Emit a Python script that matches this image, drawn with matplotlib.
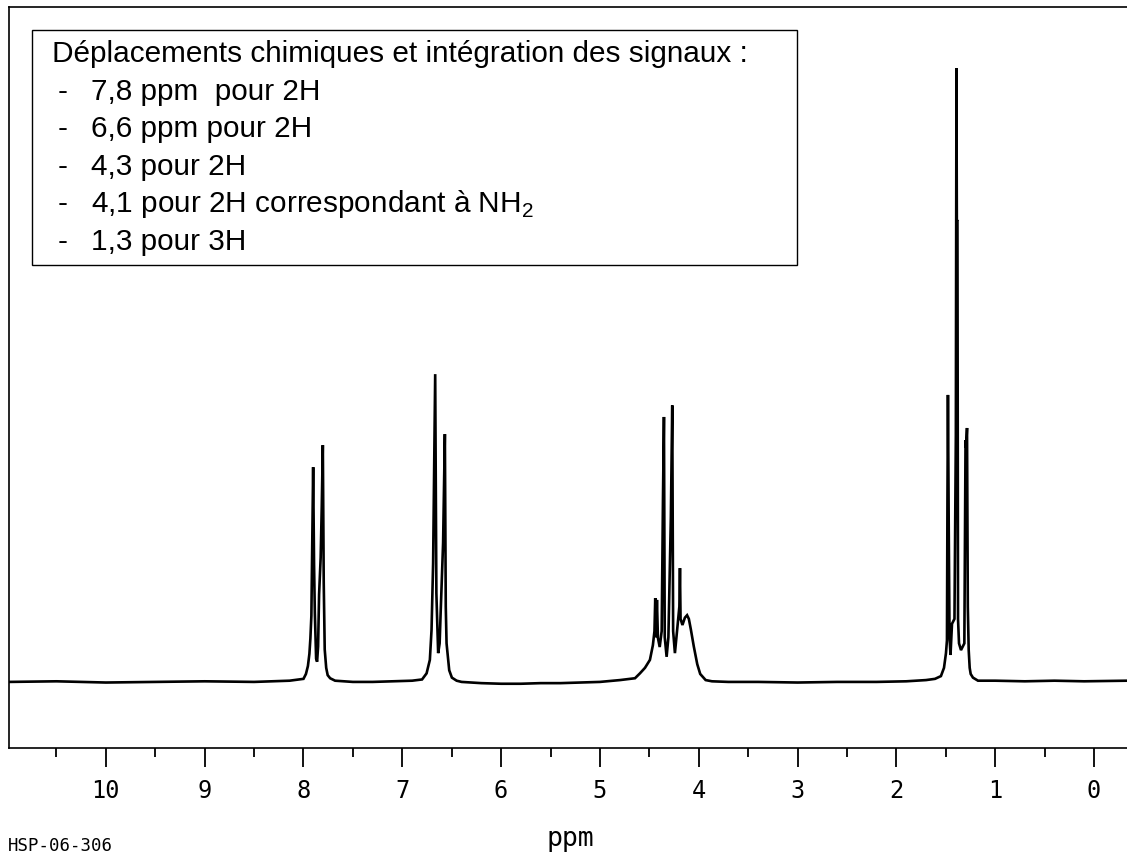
import numpy as np
import matplotlib.pyplot as plt
from matplotlib.patches import Rectangle
from matplotlib.ticker import MultipleLocator, FormatStrFormatter

plt.rcParams['mathtext.fontset'] = 'custom'
plt.rcParams['mathtext.rm'] = 'Liberation Sans'

# spectrum trace: chemical shift (ppm) and relative intensity
base_ppm_1 = [10.98, 10.5, 10.0, 9.5, 9.0, 8.5, 8.14]
base_int_1 = [-0.3, -0.2, -0.4, -0.3, -0.2, -0.3, -0.1]

ppm_78 = [8.00, 7.975, 7.955, 7.94, 7.93, 7.92, 7.912, 7.902, 7.893, 7.885, 7.872,
          7.862, 7.852, 7.842, 7.826, 7.815, 7.804, 7.795, 7.785, 7.77, 7.755, 7.73]
int_78 = [0.2, 1.0, 2.3, 4.3, 6.8, 10.5, 21.7, 34.8, 19.0, 11.0, 3.5,
          3.0, 5.5, 14.0, 20.0, 28.3, 38.4, 16.0, 5.0, 2.0, 0.8, 0.3]

base_ppm_2 = [7.68, 7.5, 7.3, 7.1, 6.9, 6.80]
base_int_2 = [-0.1, -0.3, -0.3, -0.2, -0.1, 0.1]

ppm_66 = [6.754, 6.721, 6.704, 6.688, 6.667, 6.655, 6.637, 6.622, 6.612, 6.587,
          6.569, 6.560, 6.552, 6.525, 6.498, 6.45]
int_66 = [1.1, 3.3, 8.2, 19.1, 50.0, 14.2, 4.4, 6.0, 10.9, 22.4,
          40.2, 12.0, 6.0, 1.6, 0.4, -0.1]

base_ppm_3 = [6.40, 6.2, 6.0, 5.8, 5.6, 5.4, 5.2]
base_int_3 = [-0.3, -0.5, -0.6, -0.6, -0.5, -0.5, -0.4]

ppm_43 = [5.0, 4.797, 4.645, 4.595, 4.544, 4.494, 4.464, 4.448, 4.440, 4.432, 4.423,
          4.413, 4.395, 4.375, 4.362, 4.352, 4.344, 4.325, 4.307, 4.282, 4.268, 4.259,
          4.241, 4.218, 4.196, 4.190, 4.184, 4.165, 4.140, 4.118, 4.100, 4.080, 4.050,
          4.015, 3.985, 3.930, 3.866]
int_43 = [-0.3, 0.0, 0.3, 1.1, 2.0, 3.3, 5.7, 8.0, 13.4, 7.0, 13.1,
          6.9, 5.4, 8.0, 29.4, 43.0, 7.0, 3.8, 7.0, 26.6, 44.9, 8.0,
          4.4, 8.2, 12.0, 18.3, 10.0, 9.0, 10.2, 10.6, 10.0, 8.3, 5.5,
          2.6, 1.0, 0.0, -0.2]

base_ppm_4 = [3.7, 3.4, 3.0, 2.6, 2.2, 1.9, 1.7]
base_int_4 = [-0.3, -0.3, -0.4, -0.3, -0.3, -0.2, 0.0]

ppm_13 = [1.609, 1.549, 1.518, 1.498, 1.488, 1.483, 1.478, 1.470, 1.462, 1.452, 1.437,
          1.412, 1.398, 1.392, 1.388, 1.382, 1.376, 1.366, 1.346, 1.312, 1.300, 1.294,
          1.285, 1.277, 1.268, 1.258, 1.248, 1.225, 1.174]
int_13 = [0.2, 0.65, 2.0, 4.4, 6.5, 29.6, 46.6, 25.0, 7.0, 4.1, 9.2,
          10.0, 40.0, 100.0, 75.0, 75.0, 10.0, 6.0, 4.9, 6.0, 39.2, 38.0,
          41.2, 12.0, 4.9, 2.0, 1.0, 0.4, -0.1]

base_ppm_5 = [1.0, 0.7, 0.4, 0.1, -0.334]
base_int_5 = [-0.1, -0.2, -0.1, -0.2, -0.1]

box_title = "Déplacements chimiques et intégration des signaux :"
box_items = ["7,8 ppm  pour 2H", "6,6 ppm pour 2H", "4,3 pour 2H",
             "4,1 pour 2H correspondant à NH$_2$", "1,3 pour 3H"]

ppm = np.concatenate([base_ppm_1, ppm_78, base_ppm_2, ppm_66, base_ppm_3,
                      ppm_43, base_ppm_4, ppm_13, base_ppm_5])
inten = np.concatenate([base_int_1, int_78, base_int_2, int_66, base_int_3,
                        int_43, base_int_4, int_13, base_int_5])

W, H = 1127, 861
fig = plt.figure(figsize=(W / 100, H / 100), dpi=100)
ax = fig.add_axes([9 / W, (H - 748) / H, (W - 9) / W, 741 / H])
ax.plot(ppm, inten, color='black', lw=1.9, solid_joinstyle='miter')
ax.set_xlim(10.98, -0.334)
ax.set_ylim(-11.1, 110.0)

for s in ['left', 'top', 'bottom']:
    ax.spines[s].set_linewidth(1.2)
ax.spines['right'].set_visible(False)
ax.set_yticks([])
ax.xaxis.set_major_locator(MultipleLocator(1))
ax.xaxis.set_minor_locator(MultipleLocator(0.5))
ax.xaxis.set_major_formatter(FormatStrFormatter('%d'))
ax.tick_params(axis='x', which='major', length=14, width=1.3, pad=8,
               labelsize=17, direction='out')
ax.tick_params(axis='x', which='minor', length=6.5, width=1.3, direction='out')
for lab in ax.get_xticklabels():
    lab.set_family('DejaVu Sans Mono')

fig.text(570 / W, 1 - 839 / H, 'ppm', ha='center', va='center',
         fontsize=19, family='DejaVu Sans Mono')
fig.text(8 / W, 1 - 846 / H, 'HSP-06-306', ha='left', va='center',
         fontsize=12.5, family='DejaVu Sans Mono')

# annotation box
fig.add_artist(Rectangle((32 / W, 1 - 265 / H), (797 - 32) / W, (265 - 30) / H,
                         transform=fig.transFigure, fill=True, fc='white',
                         ec='black', lw=1.0))
fs = 21.4
fig.text(52 / W, 1 - 54 / H, box_title, ha='left', va='center',
         fontsize=fs, family='Liberation Sans')
for i, item in enumerate(box_items):
    y = 54 + 37.6 * (i + 1)
    fig.text(58 / W, 1 - y / H, '-', ha='left', va='center',
             fontsize=fs, family='Liberation Sans')
    fig.text(91 / W, 1 - y / H, item, ha='left', va='center',
             fontsize=fs, family='Liberation Sans')

fig.savefig('out.png', dpi=100)
